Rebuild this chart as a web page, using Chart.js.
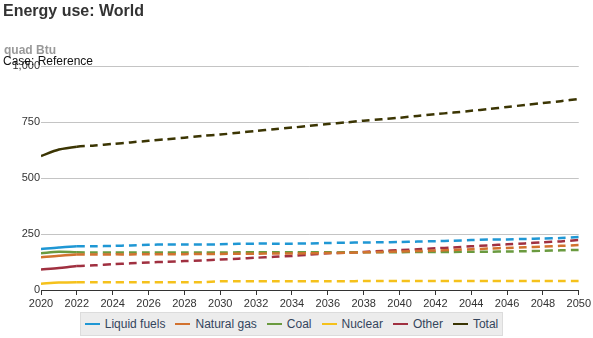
<!DOCTYPE html>
<html>
<head>
<meta charset="utf-8">
<script src="https://cdn.jsdelivr.net/npm/chart.js@4/dist/chart.umd.min.js"></script>
<style>
  body { margin: 0; background: #fff; font-family: "Liberation Sans", Arial, sans-serif; }
  #wrap { position: relative; width: 593px; height: 338px; }
  #title { position: absolute; left: 3px; top: 2px; font-size: 16px; font-weight: bold; color: #333; }
  #unit { position: absolute; left: 4px; top: 43px; font-size: 12px; font-weight: bold; color: #999; }
  #case { position: absolute; left: 3px; top: 54px; font-size: 12px; color: #111; }
  #legend { position: absolute; left: 80px; top: 312px; width: 423px; height: 24px; background: #ececec;
            border: 1px solid #dcdcdc; box-sizing: border-box; display: flex; align-items: center;
            justify-content: center; font-size: 12px; color: #34455c; white-space: nowrap; }
  #legend span.item { display: flex; align-items: center; margin: 0 5px; }
  #legend span.sw { display: inline-block; width: 15px; height: 2px; margin-right: 5px; }
</style>
</head>
<body>
<div id="wrap">
  <canvas id="chart" width="593" height="338"></canvas>
  <div id="title">Energy use: World</div>
  <div id="unit">quad Btu</div>
  <div id="case">Case: Reference</div>
  <div id="legend"></div>
</div>
<script>
'use strict';

const YEARS = [];
for (let y = 2020; y <= 2050; y++) YEARS.push(y);

const LIQUID_FUELS = [183, 190, 195, 195, 197, 199, 202, 203, 203, 203, 204, 206, 207, 207, 207, 208,
    210, 211, 212, 213, 214, 216, 218, 220, 223, 225, 226, 228, 230, 232, 237];
const NATURAL_GAS = [146, 153, 158, 158, 159, 159, 160, 160, 160, 161, 161, 162, 162, 163, 163, 164,
    165, 166, 168, 170, 172, 174, 176, 179, 182, 185, 188, 191, 194, 197, 201];
const COAL = [164, 171, 168, 167, 167, 167, 167, 167, 167, 167, 167, 168, 168, 168, 168, 168,
    168, 168, 169, 169, 169, 170, 170, 170, 171, 171, 172, 173, 175, 177, 179];
const NUCLEAR = [28, 33, 35, 35, 35, 35, 35, 35, 35, 35, 39, 39, 39, 39, 39, 39,
    39, 39, 40, 40, 40, 40, 40, 40, 40, 40, 40, 40, 40, 40, 40];
const OTHER = [92, 98, 107, 110, 115, 119, 123, 126, 129, 132, 136, 140, 144, 148, 152, 158,
    164, 167, 170, 174, 178, 182, 186, 190, 195, 199, 204, 208, 213, 217, 223];
const TOTAL = [598, 627, 640, 645, 652, 659, 666, 673, 680, 688, 694, 702, 710, 718, 725, 733,
    741, 748, 756, 762, 769, 777, 785, 792, 800, 808, 817, 826, 835, 843, 853];

const SERIES = [
    ['Liquid fuels', LIQUID_FUELS, '#1f97d4'],
    ['Natural gas', NATURAL_GAS, '#d2722f'],
    ['Coal', COAL, '#6a9a3f'],
    ['Nuclear', NUCLEAR, '#f5c11b'],
    ['Other', OTHER, '#a03040'],
    ['Total', TOTAL, '#3b3503']
];

// history is solid up to 2022, projection dashed after
const LAST_HISTORY = 2;

let datasets = SERIES.map(([label, vals, color]) => ({
    label: label,
    data: YEARS.map((yr, i) => ({ x: yr, y: vals[i] })),
    borderColor: color,
    backgroundColor: color,
    borderWidth: 2.5,
    pointRadius: 0,
    tension: 0.3,
    segment: {
        borderDash: ctx => ctx.p0DataIndex >= LAST_HISTORY ? [8, 5] : undefined
    }
}));

const chart = new Chart(document.getElementById('chart'), {
    type: 'line',
    data: { datasets: datasets },
    options: {
        responsive: false,
        animation: false,
        layout: { padding: { left: 0, right: 8, top: 66, bottom: 28 } },
        plugins: { legend: { display: false }, tooltip: { enabled: false } },
        scales: {
            x: {
                type: 'linear',
                min: 2020,
                max: 2050,
                afterFit: s => { s.height = 20; },
                ticks: {
                    stepSize: 2,
                    padding: 2,
                    maxRotation: 0,
                    color: '#333',
                    font: { family: 'Liberation Sans', size: 11 },
                    callback: v => String(v)
                },
                grid: { drawOnChartArea: false, drawTicks: true, tickLength: 5, color: '#333' },
                border: { display: true, color: '#333', width: 1 }
            },
            y: {
                min: 0,
                max: 1000,
                afterFit: s => { s.width = 41; },
                ticks: {
                    stepSize: 250,
                    padding: 1,
                    color: '#333',
                    font: { family: 'Liberation Sans', size: 11 }
                },
                grid: { color: '#c4c4c4', drawTicks: false },
                border: { display: false }
            }
        }
    }
});

// legend built from the datasets
const legendDOM = document.getElementById('legend');
for (let ds of chart.data.datasets) {
    const item = document.createElement('span');
    item.className = 'item';
    item.innerHTML = '<span class="sw" style="background:' + ds.borderColor + '"></span>' + ds.label;
    legendDOM.appendChild(item);
}
</script>
</body>
</html>
